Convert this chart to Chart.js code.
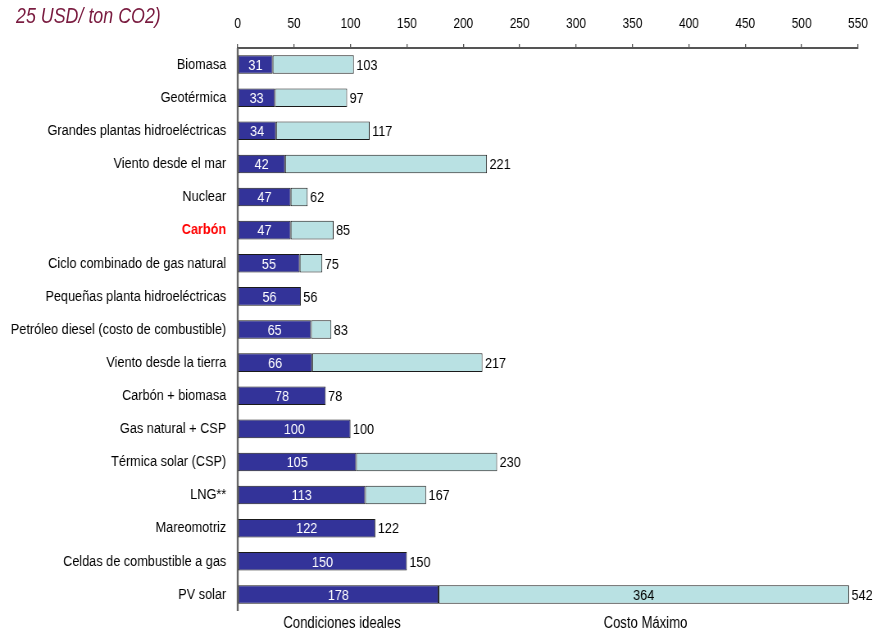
<!DOCTYPE html>
<html><head><meta charset="utf-8">
<script src="https://cdn.jsdelivr.net/npm/chart.js@4.4.0/dist/chart.umd.min.js"></script>
<style>
html,body{margin:0;padding:0;background:#fff;}
#wrap{position:relative;width:877px;height:632px;overflow:hidden;}
#title{position:absolute;left:16px;top:4px;font-family:"Liberation Sans","Arial",sans-serif;font-style:italic;font-size:21.5px;color:#7a1c40;white-space:nowrap;transform:scaleX(0.83);transform-origin:0 0;}
canvas{position:absolute;left:0;top:0;transform:scaleX(0.8196);transform-origin:0 0;}
</style></head><body>
<div id="wrap"><canvas id="c" width="1070" height="632" style="width:1070px;height:632px"></canvas><div id="title">25 USD/ ton CO2)</div></div>
<script>
const categories = ["Biomasa","Geotérmica","Grandes plantas hidroeléctricas","Viento desde el mar","Nuclear","Carbón","Ciclo combinado de gas natural","Pequeñas planta hidroeléctricas","Petróleo diesel (costo de combustible)","Viento desde la tierra","Carbón + biomasa","Gas natural + CSP","Térmica solar (CSP)","LNG**","Mareomotriz","Celdas de combustible a gas","PV solar"];
const idealValues = [31,33,34,42,47,47,55,56,65,66,78,100,105,113,122,150,178];
const maxValues = [103,97,117,221,62,85,75,56,83,217,78,100,230,167,122,150,542];
const extraValues = maxValues.map((m,i)=>m-idealValues[i]);
const legendLabels = ["Condiciones ideales","Costo Máximo"];
const highlightCategory = "Carbón";
const xMin = 0, xMax = 550, xStep = 50;

const FONT = '"Liberation Sans","Arial",sans-serif';

const axisLinePlugin = {
  id:'yline',
  beforeDatasetsDraw(chart){
    const ctx = chart.ctx, a = chart.chartArea;
    ctx.save();
    ctx.strokeStyle = '#666';
    ctx.lineWidth = 2.4;
    ctx.beginPath();
    ctx.moveTo(a.left, a.top);
    ctx.lineTo(a.left, a.bottom);
    ctx.stroke();
    ctx.restore();
  }
};

const labelPlugin = {
  id:'vals',
  afterDatasetsDraw(chart){
    const ctx = chart.ctx;
    const m0 = chart.getDatasetMeta(0), m1 = chart.getDatasetMeta(1);
    ctx.save();
    ctx.font = '15.5px ' + FONT;
    ctx.textBaseline = 'middle';
    m0.data.forEach((bar,i)=>{
      const b1 = m1.data[i];
      ctx.textAlign = 'center';
      ctx.fillStyle = '#ffffff';
      ctx.fillText(String(idealValues[i]), (bar.base+bar.x)/2, bar.y+1);
      if (extraValues[i] > 300) {
        ctx.fillStyle = '#000';
        ctx.fillText(String(extraValues[i]), (b1.base+b1.x)/2, b1.y+1);
      }
      const endPx = Math.max(bar.x, b1.x);
      ctx.textAlign = 'left';
      ctx.fillStyle = '#000';
      ctx.fillText(String(maxValues[i]), endPx+3, bar.y+1);
    });
    ctx.font = '16px ' + FONT;
    ctx.textAlign = 'center';
    ctx.fillStyle = '#000';
    const W = chart.width;
    ctx.fillText(legendLabels[0], W*0.39, 624);
    ctx.fillText(legendLabels[1], W*0.736, 624);
    ctx.restore();
  }
};

new Chart(document.getElementById('c'), {
  type:'bar',
  data:{
    labels: categories,
    datasets:[
      {label:legendLabels[0], data:idealValues, backgroundColor:'#333399', borderColor:'#1a1a1a', borderWidth:1, borderSkipped:false, categoryPercentage:1, barPercentage:0.56},
      {label:legendLabels[1], data:extraValues, backgroundColor:'#b9e1e3', borderColor:'#1a1a1a', borderWidth:1, borderSkipped:false, categoryPercentage:1, barPercentage:0.56}
    ]
  },
  options:{
    indexAxis:'y',
    responsive:false,
    animation:false,
    devicePixelRatio:1,
    layout:{padding:{left:0,right:22,top:0,bottom:21}},
    plugins:{legend:{display:false}, tooltip:{enabled:false}},
    scales:{
      x:{
        position:'top', stacked:true, min:xMin, max:xMax,
        ticks:{stepSize:xStep, color:'#000', font:{family:FONT,size:14.5}, padding:11, maxRotation:0},
        grid:{display:true, drawOnChartArea:false, drawTicks:true, tickLength:4, color:'#555', lineWidth:1.3},
        border:{display:true, color:'#555', width:2},
        afterFit(s){ s.height = 48; }
      },
      y:{
        stacked:true,
        ticks:{
          padding:14,
          color:(c)=> categories[c.index]===highlightCategory ? '#ff0000' : '#000',
          font:(c)=> ({family:FONT, size:15.5, weight: categories[c.index]===highlightCategory ? 'bold' : 'normal'})
        },
        grid:{display:false, drawTicks:false},
        border:{display:false},
        afterFit(s){ s.width = 290; s.paddingTop = 0; s.paddingBottom = 0; }
      }
    }
  },
  plugins:[axisLinePlugin, labelPlugin]
});
</script>
</body></html>
